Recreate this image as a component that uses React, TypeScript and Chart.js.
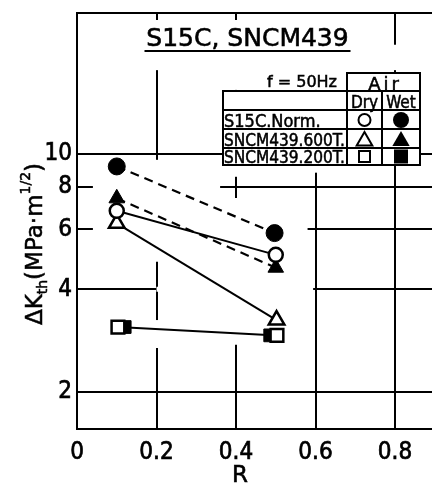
import React, { useEffect, useRef } from 'react';
import { Chart, registerables } from 'chart.js';

Chart.register(...registerables);

// ---- data ----
const xTickValues = [0, 0.2, 0.4, 0.6, 0.8];
const yTickValues = [2, 4, 6, 8, 10];

const s15cDryR = [0.1, 0.5];
const s15cDryK = [6.8, 5.05];
const s15cWetR = [0.1, 0.497];
const s15cWetK = [9.18, 5.85];
const sncm600DryR = [0.1, 0.502];
const sncm600DryK = [6.25, 3.25];
const sncm600WetR = [0.1, 0.5];
const sncm600WetK = [7.4, 4.63];
const sncm200DryR = [0.103, 0.503];
const sncm200DryK = [3.1, 2.93];
const sncm200WetR = [0.12, 0.486];
const sncm200WetK = [3.1, 2.93];

const titleText = 'S15C, SNCM439';
const freqText = 'f = 50Hz';
const envText = 'Air';
const colDry = 'Dry';
const colWet = 'Wet';
const rowNames = ['S15C.Norm.', 'SNCM439.600T.', 'SNCM439.200T.'];
const xTitle = 'R';

// gaps in the grid lines (in data units), as drawn in the original figure
const yGridGaps = [
  { at: 8, from: 0.04, to: 0.36 },
  { at: 6, from: 0.04, to: 0.58 },
  { at: 4, from: 0.2, to: 0.594 },
];
const xGridGaps = [
  { at: 0.2, from: 17.6, to: 24.7 },
  { at: 0.2, from: 4.82, to: 9.6 },
  { at: 0.2, from: 2.69, to: 3.25 },
  { at: 0.4, from: 15.4, to: 24.7 },
  { at: 0.4, from: 8.56, to: 9.4 },
  { at: 0.4, from: 2.75, to: 7.42 },
  { at: 0.6, from: 15.4, to: 26 },
  { at: 0.6, from: 8.8, to: 9.4 },
  { at: 0.8, from: 17.6, to: 20.9 },
];

const SANS = '"DejaVu Sans", sans-serif';
const COND = '"DejaVu Sans Condensed", "Liberation Sans Narrow", sans-serif';

const mk = (rs: number[], ks: number[]) => rs.map((r, i) => ({ x: r, y: ks[i] }));

function drawMarker(ctx: CanvasRenderingContext2D, kind: string, filled: boolean, x: number, y: number, r: number) {
  ctx.beginPath();
  if (kind === 'circle') {
    ctx.arc(x, y, r, 0, Math.PI * 2);
  } else if (kind === 'triangle') {
    ctx.moveTo(x, y - r);
    ctx.lineTo(x + r * 0.866, y + r * 0.5);
    ctx.lineTo(x - r * 0.866, y + r * 0.5);
    ctx.closePath();
  } else {
    ctx.rect(x - r, y - r, 2 * r, 2 * r);
  }
  if (filled) {
    ctx.fillStyle = '#000';
    ctx.fill();
  } else {
    ctx.fillStyle = '#fff';
    ctx.fill();
    ctx.lineWidth = 2;
    ctx.strokeStyle = '#000';
    ctx.stroke();
  }
}

function boldText(ctx: CanvasRenderingContext2D, t: string, x: number, y: number, w?: number, sw = 0.7) {
  ctx.lineWidth = sw;
  ctx.strokeStyle = '#000';
  if (w !== undefined) {
    ctx.fillText(t, x, y, w);
    ctx.strokeText(t, x, y, w);
  } else {
    ctx.fillText(t, x, y);
    ctx.strokeText(t, x, y);
  }
}

const decor = {
  id: 'decor',
  beforeDatasetsDraw(chart: any) {
    const ctx = chart.ctx as CanvasRenderingContext2D;
    const xs = chart.scales.x;
    const ys = chart.scales.y;
    ctx.save();
    ctx.strokeStyle = '#fff';
    ctx.lineWidth = 5;
    ctx.lineCap = 'butt';
    for (const g of yGridGaps) {
      const y = ys.getPixelForValue(g.at);
      ctx.beginPath();
      ctx.moveTo(xs.getPixelForValue(g.from), y);
      ctx.lineTo(xs.getPixelForValue(g.to), y);
      ctx.stroke();
    }
    for (const g of xGridGaps) {
      const x = xs.getPixelForValue(g.at);
      ctx.beginPath();
      ctx.moveTo(x, Math.max(ys.getPixelForValue(g.to), chart.chartArea.top + 1));
      ctx.lineTo(x, ys.getPixelForValue(g.from));
      ctx.stroke();
    }
    ctx.restore();
  },
  afterDraw(chart: any) {
    const ctx = chart.ctx as CanvasRenderingContext2D;
    const area = chart.chartArea;
    ctx.save();
    ctx.fillStyle = '#000';
    ctx.strokeStyle = '#000';

    // top frame line
    ctx.lineWidth = 2;
    ctx.beginPath();
    ctx.moveTo(area.left - 1, area.top);
    ctx.lineTo(area.right + 2, area.top);
    ctx.stroke();

    // title with underline
    ctx.font = `25px ${SANS}`;
    ctx.textAlign = 'center';
    ctx.textBaseline = 'alphabetic';
    const tcx = 247.5;
    boldText(ctx, titleText, tcx, 46, 206, 0.6);
    ctx.lineWidth = 2;
    ctx.beginPath();
    ctx.moveTo(tcx - 103, 51);
    ctx.lineTo(tcx + 103, 51);
    ctx.stroke();

    // legend table
    const L = 223, R = 420, c1 = 347, c2 = 382;
    const airTop = 73, top = 91;
    const lines = [110, 129, 148];
    const bottom = 165;
    ctx.fillStyle = '#fff';
    ctx.fillRect(L, top, R - L, bottom - top);
    ctx.fillRect(c1, airTop, R - c1, top - airTop);
    ctx.fillStyle = '#000';
    ctx.lineWidth = 2;
    ctx.strokeRect(L, top, R - L, bottom - top);
    ctx.strokeRect(c1, airTop, R - c1, top - airTop);
    ctx.beginPath();
    ctx.moveTo(c1, top); ctx.lineTo(c1, bottom);
    ctx.moveTo(c2, top); ctx.lineTo(c2, bottom);
    for (const ly of lines) { ctx.moveTo(L, ly); ctx.lineTo(R, ly); }
    ctx.stroke();

    ctx.font = `16px ${SANS}`;
    ctx.textAlign = 'right';
    boldText(ctx, freqText, 337, 87, undefined, 0.5);

    ctx.font = `18px ${SANS}`;
    ctx.textAlign = 'center';
    (ctx as any).letterSpacing = '3px';
    boldText(ctx, envText, (c1 + R) / 2 + 1.5, 90, undefined, 0.5);
    (ctx as any).letterSpacing = '0px';

    ctx.font = `17px ${COND}`;
    boldText(ctx, colDry, (c1 + c2) / 2, 108, c2 - c1 - 3, 0.5);
    boldText(ctx, colWet, (c2 + R) / 2, 108, R - c2 - 3, 0.5);

    ctx.font = `18px ${COND}`;
    ctx.textAlign = 'left';
    const rowBase = [127, 146, 163];
    rowNames.forEach((n, i) => boldText(ctx, n, L + 1, rowBase[i], c1 - L - 3, 0.5));

    const mcx1 = (c1 + c2) / 2, mcx2 = (c2 + R) / 2;
    drawMarker(ctx, 'circle', false, mcx1, 120, 6);
    drawMarker(ctx, 'circle', true, mcx2, 120, 8);
    drawMarker(ctx, 'triangle', false, mcx1, 141, 9);
    drawMarker(ctx, 'triangle', true, mcx2, 141, 10);
    drawMarker(ctx, 'rect', false, mcx1, 156.5, 5.5);
    drawMarker(ctx, 'rect', true, mcx2, 156.5, 7);

    // x axis title
    ctx.fillStyle = '#000';
    ctx.font = `23px ${SANS}`;
    ctx.textAlign = 'center';
    boldText(ctx, xTitle, 240, 482, undefined, 0.6);

    // y axis title: ΔK_th (MPa·m^1/2)
    ctx.save();
    ctx.translate(42, 244);
    ctx.rotate(-Math.PI / 2);
    const parts = [
      { t: 'ΔK', s: 23, dy: 0 },
      { t: 'th', s: 14, dy: 5 },
      { t: '(MPa·m', s: 23, dy: 0 },
      { t: '1/2', s: 14, dy: -12 },
      { t: ')', s: 23, dy: 0 },
    ];
    let total = 0;
    const widths: number[] = [];
    for (const p of parts) {
      ctx.font = `${p.s}px ${SANS}`;
      const w = ctx.measureText(p.t).width;
      widths.push(w);
      total += w;
    }
    let px = -total / 2;
    ctx.textAlign = 'left';
    parts.forEach((p, i) => {
      ctx.font = `${p.s}px ${SANS}`;
      boldText(ctx, p.t, px, p.dy, undefined, 0.5);
      px += widths[i];
    });
    ctx.restore();

    ctx.restore();
  },
};

export default function App() {
  const ref = useRef<HTMLCanvasElement | null>(null);
  useEffect(() => {
    const canvas = ref.current;
    if (!canvas) return;
    const open = { pointBackgroundColor: '#fff', pointBorderColor: '#000', pointBorderWidth: 2.5 };
    const filled = { pointBackgroundColor: '#000', pointBorderColor: '#000', pointBorderWidth: 1 };
    const chart = new Chart(canvas, {
      type: 'scatter',
      data: {
        datasets: [
          { label: 'S15C.Norm. Dry', data: mk(s15cDryR, s15cDryK), showLine: true, borderColor: '#000', borderWidth: 2, pointStyle: 'circle', pointRadius: 7, ...open },
          { label: 'SNCM439.200T. Dry', data: mk(sncm200DryR, sncm200DryK), showLine: true, borderColor: '#000', borderWidth: 2, pointStyle: 'rect', pointRadius: 9, ...open },
          { label: 'SNCM439.600T. Dry', data: mk(sncm600DryR, sncm600DryK), showLine: true, borderColor: '#000', borderWidth: 2, pointStyle: 'triangle', pointRadius: 9, ...open },
          { label: 'S15C.Norm. Wet', data: mk(s15cWetR, s15cWetK), showLine: true, borderColor: '#000', borderWidth: 2.2, borderDash: [9, 6], pointStyle: 'circle', pointRadius: 8.5, ...filled },
          { label: 'SNCM439.600T. Wet', data: mk(sncm600WetR, sncm600WetK), showLine: true, borderColor: '#000', borderWidth: 2.2, borderDash: [9, 6], pointStyle: 'triangle', pointRadius: 9, ...filled },
          { label: 'SNCM439.200T. Wet', data: mk(sncm200WetR, sncm200WetK), showLine: false, borderColor: '#000', pointStyle: 'rect', pointRadius: 9, ...filled },
        ] as any,
      },
      options: {
        animation: false,
        responsive: false,
        maintainAspectRatio: false,
        layout: { autoPadding: false, padding: { top: 13, left: 0, right: 0, bottom: 0 } },
        plugins: { legend: { display: false }, tooltip: { enabled: false }, title: { display: false } },
        scales: {
          x: {
            type: 'linear',
            min: 0,
            max: 0.893,
            afterBuildTicks: (s: any) => { s.ticks = xTickValues.map((v) => ({ value: v })); },
            afterFit: (s: any) => { s.height = 62; s.paddingLeft = 0; s.paddingRight = 0; },
            grid: { color: '#000', lineWidth: 2, drawTicks: false },
            border: { color: '#000', width: 2 },
            ticks: {
              color: '#000',
              padding: 9,
              autoSkip: false,
              maxRotation: 0,
              textStrokeColor: '#000',
              textStrokeWidth: 0.7,
              font: { family: COND, size: 24 },
              callback: (v: any) => (Number(v) === 0 ? '0' : Number(v).toFixed(1)),
            },
          },
          y: {
            type: 'logarithmic',
            min: 1.556,
            max: 25.9,
            afterBuildTicks: (s: any) => { s.ticks = yTickValues.map((v) => ({ value: v })); },
            afterFit: (s: any) => { s.width = 77; s.paddingTop = 0; s.paddingBottom = 0; },
            grid: { color: '#000', lineWidth: 2, drawTicks: false },
            border: { color: '#000', width: 2 },
            ticks: {
              color: '#000',
              padding: 5,
              autoSkip: false,
              textStrokeColor: '#000',
              textStrokeWidth: 0.7,
              font: { family: COND, size: 24 },
              callback: (v: any) => String(v),
            },
          },
        },
      } as any,
      plugins: [decor],
    });
    return () => chart.destroy();
  }, []);
  return (
    <div style={{ position: 'fixed', left: 0, top: 0, width: 432, height: 491, background: '#fff' }}>
      <canvas ref={ref} width={432} height={491} style={{ display: 'block', width: 432, height: 491 }} />
    </div>
  );
}
